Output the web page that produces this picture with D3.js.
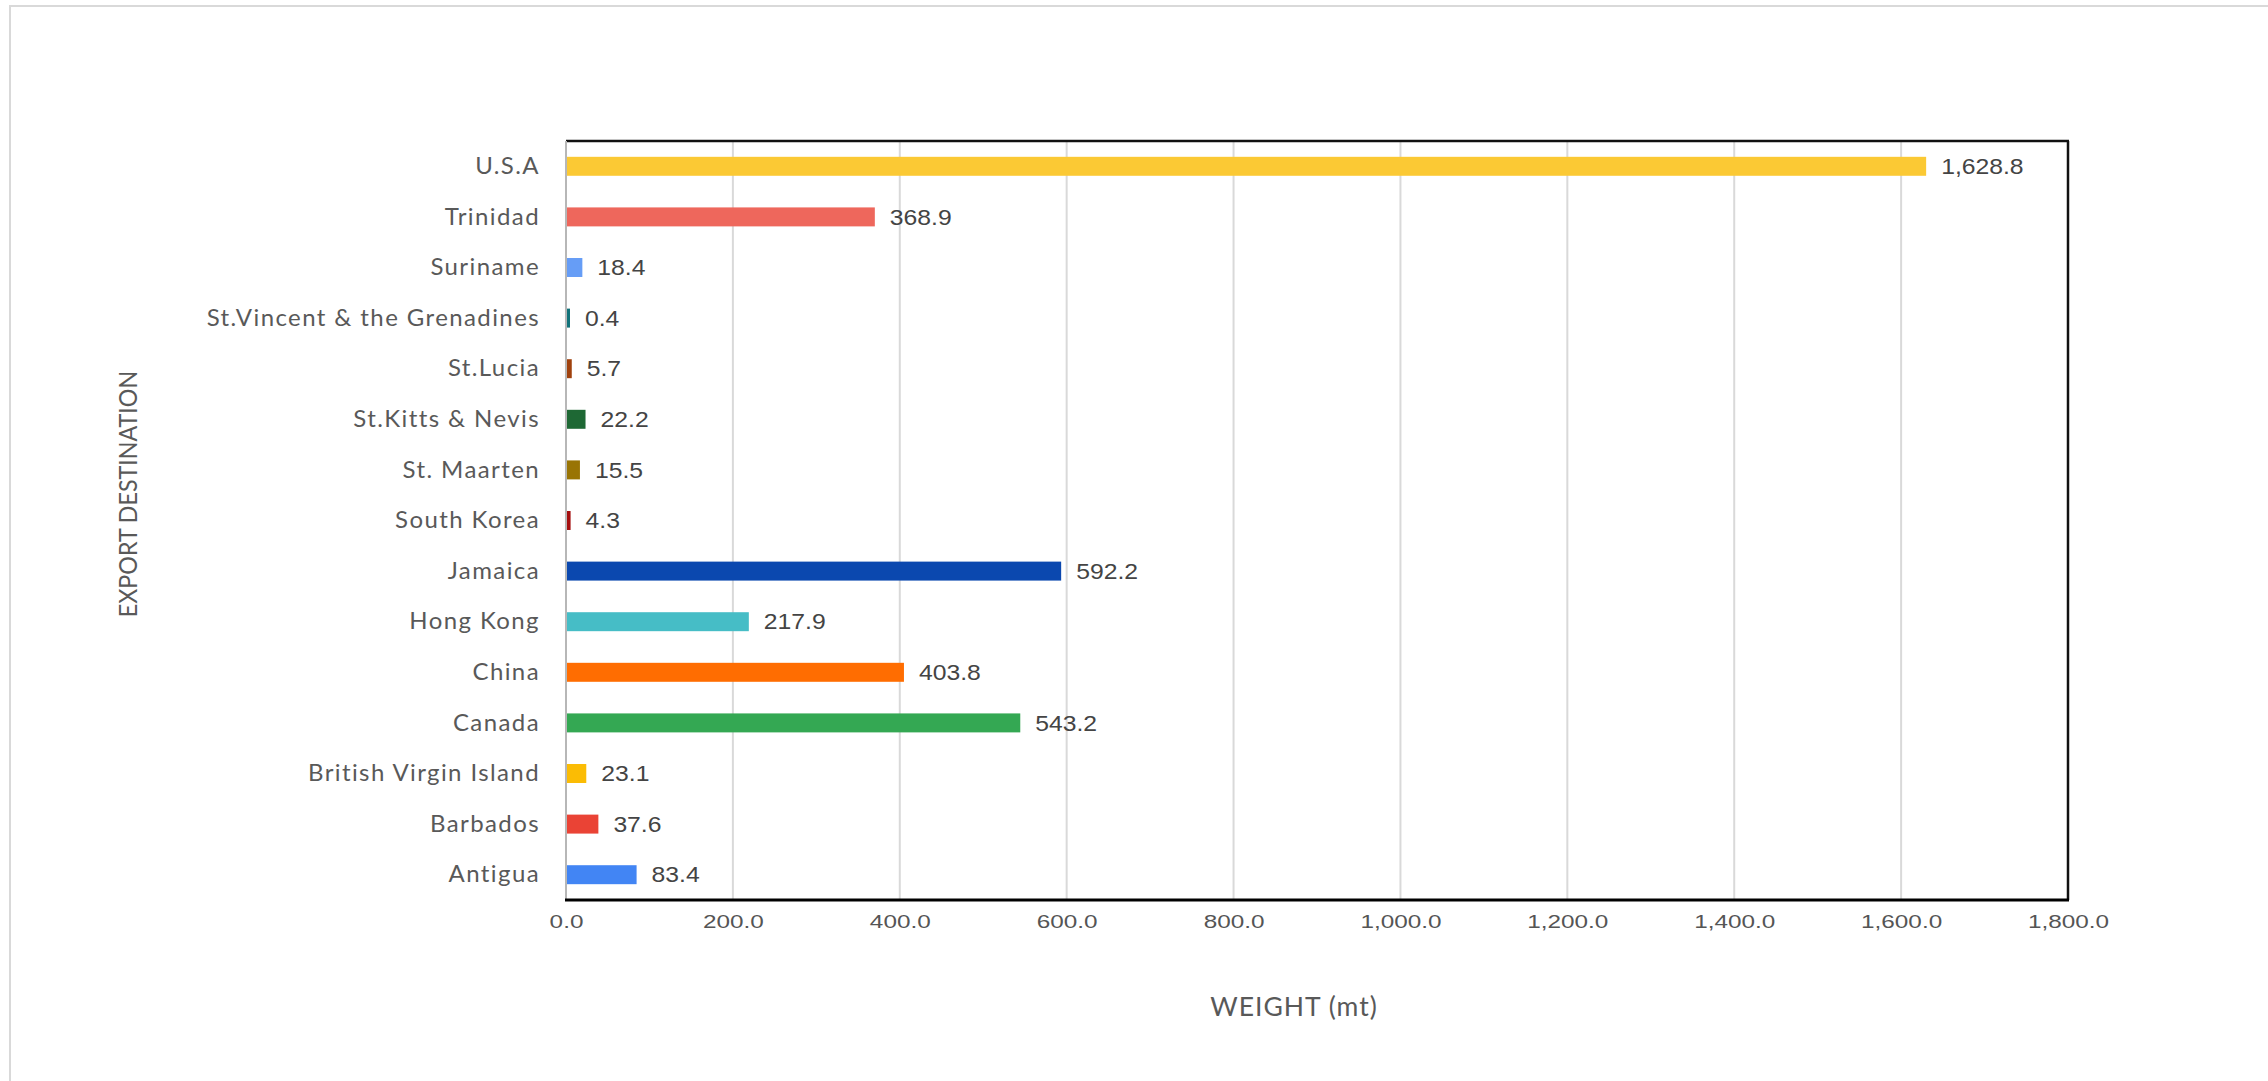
<!DOCTYPE html>
<html>
<head>
<meta charset="utf-8">
<script src="https://cdn.jsdelivr.net/npm/d3@7"></script>
<style>
  html, body { margin: 0; padding: 0; background: #fff; }
  svg { display: block; }
</style>
</head>
<body>
<svg id="chart" width="2268" height="1081"></svg>
<script>
// Export destinations, listed top to bottom as drawn
const destinations = [
  "U.S.A", "Trinidad", "Suriname", "St.Vincent & the Grenadines", "St.Lucia",
  "St.Kitts & Nevis", "St. Maarten", "South Korea", "Jamaica", "Hong Kong",
  "China", "Canada", "British Virgin Island", "Barbados", "Antigua"
];
// Export weight in metric tonnes
const weights = [
  1628.8, 368.9, 18.4, 0.4, 5.7,
  22.2, 15.5, 4.3, 592.2, 217.9,
  403.8, 543.2, 23.1, 37.6, 83.4
];
const barColors = [
  "#fbc934", "#ee675c", "#669df6", "#12737a", "#a0410d",
  "#1e6834", "#997404", "#a50e0e", "#0b48af", "#46bdc6",
  "#ff6d01", "#34a853", "#fbbc04", "#ea4335", "#4285f4"
];
const xTicks = [0, 200, 400, 600, 800, 1000, 1200, 1400, 1600, 1800];
const xTitle = "WEIGHT (mt)";
const yTitle = "EXPORT DESTINATION";

const svg = d3.select("#chart");
const plot = { left: 566, right: 2068, top: 141, bottom: 900 };

const fmt = d3.format(",.1f");

const x = d3.scaleLinear().domain([0, 1800]).range([plot.left, plot.right]);
const y = d3.scaleBand().domain(destinations).range([plot.top, plot.bottom])
  .paddingInner(0.625).paddingOuter(0.3125);

// outer frame
svg.append("rect")
  .attr("x", 10).attr("y", 6).attr("width", 2400).attr("height", 1200)
  .attr("fill", "none").attr("stroke", "#d9d9d9").attr("stroke-width", 2);

// vertical gridlines
svg.append("g").selectAll("line")
  .data(xTicks.filter(t => t > 0 && t < 1800))
  .join("line")
  .attr("x1", d => x(d)).attr("x2", d => x(d))
  .attr("y1", plot.top).attr("y2", plot.bottom)
  .attr("stroke", "#d9d9d9").attr("stroke-width", 2);

// bars
svg.append("g").selectAll("rect")
  .data(destinations)
  .join("rect")
  .attr("x", x(0) + 1)
  .attr("y", d => y(d))
  .attr("width", (d, i) => Math.max(x(weights[i]) - x(0), 3))
  .attr("height", y.bandwidth())
  .attr("fill", (d, i) => barColors[i]);

// value labels
svg.append("g").selectAll("text")
  .data(destinations)
  .join("text")
  .attr("transform", (d, i) => `translate(${Math.max(x(weights[i]), x(0) + 3) + 16},${y(d) + y.bandwidth() / 2}) scale(1.15,1)`)
  .attr("dy", "0.36em")
  .attr("font-family", "'Liberation Sans', Arial, sans-serif")
  .attr("font-size", 21.5)
  .attr("fill", "#444444")
  .text((d, i) => fmt(weights[i]));

// plot frame: top and right in black
svg.append("line")
  .attr("x1", plot.left).attr("x2", plot.right + 1)
  .attr("y1", plot.top).attr("y2", plot.top)
  .attr("stroke", "#111").attr("stroke-width", 2.5);
svg.append("line")
  .attr("x1", plot.right).attr("x2", plot.right)
  .attr("y1", plot.top).attr("y2", plot.bottom)
  .attr("stroke", "#111").attr("stroke-width", 2.5);

// left axis line
svg.append("line")
  .attr("x1", plot.left).attr("x2", plot.left)
  .attr("y1", plot.top).attr("y2", plot.bottom)
  .attr("stroke", "#b7b7b7").attr("stroke-width", 2);

// bottom axis
const xAxis = svg.append("g")
  .attr("transform", `translate(0,${plot.bottom})`)
  .call(d3.axisBottom(x).tickValues(xTicks).tickFormat(fmt).tickSize(0).tickPadding(15));
xAxis.select(".domain")
  .attr("d", `M${plot.left - 1},0H${plot.right + 1}`)
  .attr("stroke", "#000").attr("stroke-width", 3);
xAxis.selectAll(".tick text")
  .attr("font-family", "'Liberation Sans', Arial, sans-serif")
  .attr("font-size", 19)
  .attr("fill", "#555555")
  .attr("transform", "scale(1.28,1)");

// category axis
const yAxis = svg.append("g")
  .attr("transform", `translate(${plot.left},0)`)
  .call(d3.axisLeft(y).tickSize(0).tickPadding(26));
yAxis.select(".domain").remove();
yAxis.selectAll(".tick text")
  .attr("font-family", "Lato, 'Open Sans', sans-serif")
  .attr("font-size", 24)
  .attr("letter-spacing", 1.4)
  .attr("fill", "#595959");

// axis titles
svg.append("text")
  .attr("transform", "translate(1294,1016)")
  .attr("text-anchor", "middle")
  .attr("font-family", "Lato, 'Open Sans', sans-serif")
  .attr("font-size", 26.5)
  .attr("letter-spacing", 1)
  .attr("fill", "#595959")
  .text(xTitle);

svg.append("text")
  .attr("transform", "translate(137,494) rotate(-90) scale(0.93,1)")
  .attr("text-anchor", "middle")
  .attr("font-family", "Lato, 'Open Sans', sans-serif")
  .attr("font-size", 25)
  .attr("fill", "#595959")
  .text(yTitle);
</script>
</body>
</html>
